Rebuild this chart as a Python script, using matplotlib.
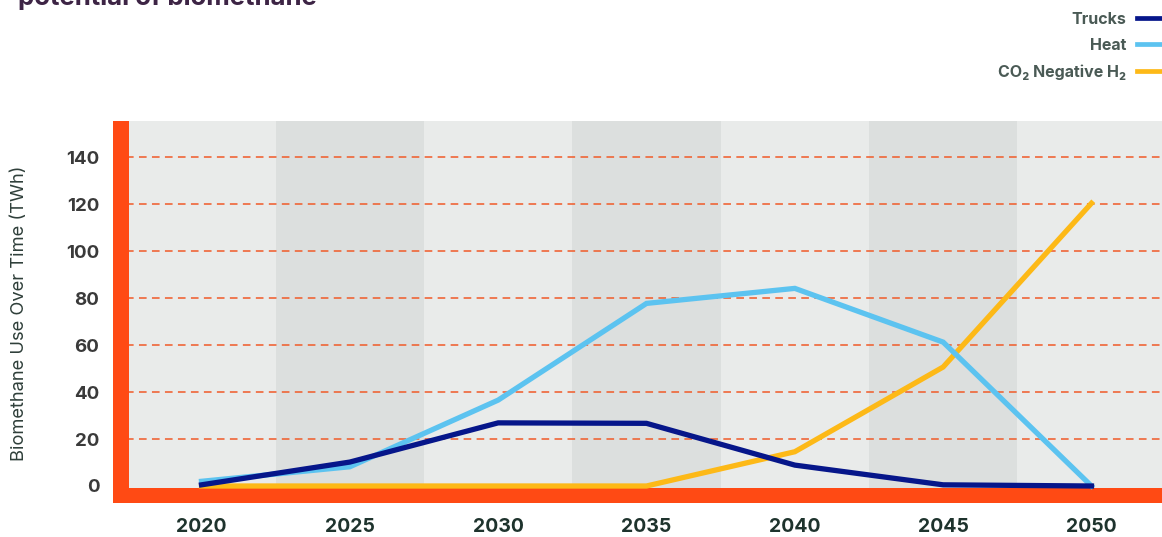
import matplotlib
matplotlib.use("Agg")
import matplotlib.pyplot as plt
from matplotlib.lines import Line2D

plt.rcParams['font.family'] = ['Inter', 'DejaVu Sans']

years = [2020, 2025, 2030, 2035, 2040, 2045, 2050]
trucks = [0.5, 10.2, 26.9, 26.7, 8.9, 0.5, 0]
heat = [2.0, 8.2, 36.6, 77.8, 84.2, 61.3, 0]
co2_neg_h2 = [0, 0, 0, 0, 14.6, 50.7, 120.5]
y_ticks = [0, 20, 40, 60, 80, 100, 120, 140]

RED = '#ff4a14'
LIGHT_BAND = '#e9ebea'
DARK_BAND = '#dcdfde'
NAVY = '#06168a'
SKY = '#5cc3f0'
AMBER = '#fdb917'

W, H = 1162, 537
fig = plt.figure(figsize=(W / 100, H / 100), dpi=100)

# axes box in pixels (includes the thick red frame)
left_px, right_px, top_px, bottom_px = 113.3, 1162, 121, 502.7
ax = fig.add_axes([left_px / W, 1 - bottom_px / H,
                   (right_px - left_px) / W, (bottom_px - top_px) / H])

px_per_year = 29.66
x_min = 2020 - (201.5 - left_px) / px_per_year
x_max = 2050 + (right_px - 1091.5) / px_per_year
px_per_unit = 2.347
y_min = -(bottom_px - 486) / px_per_unit
y_max = (486 - top_px) / px_per_unit
ax.set_xlim(x_min, x_max)
ax.set_ylim(y_min, y_max)
ax.set_facecolor(LIGHT_BAND)

# alternating column shading
for i, yr in enumerate(years):
    if i % 2 == 1:
        ax.axvspan(yr - 2.5, yr + 2.5, color=DARK_BAND, lw=0, zorder=0)

# dashed gridlines
for t in y_ticks[1:]:
    ax.axhline(t, color='#f05a28', lw=1.1, ls=(0, (5, 3.5)), zorder=1)

# thick red frame (left and bottom)
ax.axvspan(x_min, x_min + 15.4 / px_per_year, color=RED, lw=0, zorder=2)
ax.axhspan(y_min, -1.7 / px_per_unit, color=RED, lw=0, zorder=2)

ax.plot(years, co2_neg_h2, color=AMBER, lw=3.8, zorder=3, solid_joinstyle='miter')
ax.plot(years, heat, color=SKY, lw=3.8, zorder=4, solid_joinstyle='miter')
ax.plot(years, trucks, color=NAVY, lw=3.8, zorder=5, solid_joinstyle='miter')

for s in ax.spines.values():
    s.set_visible(False)

ax.set_yticks(y_ticks)
ax.set_yticklabels([str(t) for t in y_ticks], fontsize=13.5, fontweight='bold', color='#3a3a3a')
ax.set_xticks(years)
ax.set_xticklabels([str(y) for y in years], fontsize=14, fontweight='bold', color='#1e332d')
ax.tick_params(axis='y', length=0, pad=10)
ax.tick_params(axis='x', length=0, pad=11)

fig.text(20 / W, 1 - 313 / H, 'Biomethane Use Over Time (TWh)', rotation=90,
         ha='center', va='center', fontsize=13.2, color='#2f3f3a')

fig.text(18 / W, 1 - 4.5 / H, 'potential of biomethane', ha='left', va='baseline',
         fontsize=18.5, fontweight='bold', color='#3d2445')

handles = [Line2D([], [], color=NAVY, lw=3.4),
           Line2D([], [], color=SKY, lw=3.4),
           Line2D([], [], color=AMBER, lw=3.4)]
labels = ['Trucks', 'Heat', 'CO₂ Negative H₂']
leg = fig.legend(handles, labels, loc='upper right', bbox_to_anchor=(1.0, 1 - 11.5 / H),
                 markerfirst=False, frameon=False, handlelength=1.57,
                 handletextpad=0.69, labelspacing=0.72, borderpad=0,
                 borderaxespad=0, prop={'size': 11.5, 'weight': 'bold'})
for t in leg.get_texts():
    t.set_color('#4a5a55')

fig.savefig('out.png', dpi=100)
